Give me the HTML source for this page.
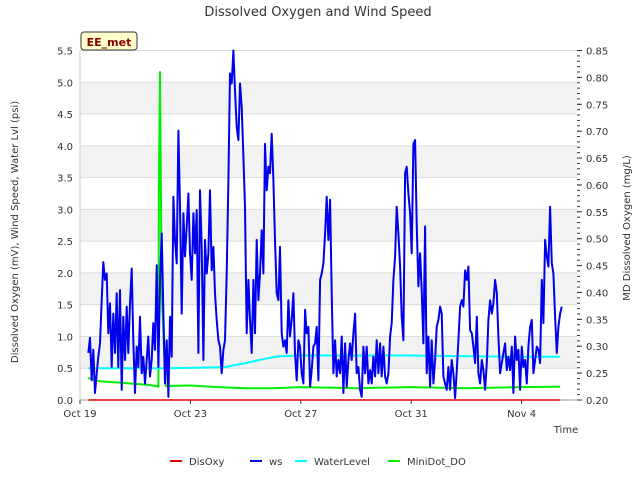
<!DOCTYPE html>
<html><head><meta charset="utf-8"><style>
body{margin:0;background:#fff;font-family:"Liberation Sans","DejaVu Sans",sans-serif}
svg text{font-family:"DejaVu Sans","Liberation Sans",sans-serif}
</style></head><body>
<svg id="c" width="640" height="480" xmlns="http://www.w3.org/2000/svg"></svg>
<script>
const xTicks=["Oct 19","Oct 23","Oct 27","Oct 31","Nov 4"];
const xTickDays=[0,4,8,12,16];
const leftTicks=[0,0.5,1,1.5,2,2.5,3,3.5,4,4.5,5,5.5];
const rightTicks=[0.20,0.25,0.30,0.35,0.40,0.45,0.50,0.55,0.60,0.65,0.70,0.75,0.80,0.85];
const wsStartDay=0.302;
const wsStepDay=0.0604;
const wsValues=[0.74,0.98,0.31,0.79,0.11,0.42,0.68,0.89,1.57,2.17,1.89,1.99,1.05,1.52,0.52,1.36,0.74,1.68,0.52,1.73,0.16,1.31,0.63,1.47,0.74,1.52,2.07,0.94,0.11,0.84,0.52,1.31,0.42,0.68,0.26,0.63,1.00,0.37,0.63,1.21,0.79,2.12,0.52,1.84,2.62,1.36,0.26,0.94,0.05,1.31,0.68,3.20,2.52,2.15,4.24,3.04,1.36,2.94,2.26,2.73,3.25,2.31,1.89,2.94,2.31,2.99,0.74,3.30,2.41,0.63,2.52,1.99,2.31,3.30,2.04,2.41,1.68,1.26,0.94,0.84,0.42,0.79,0.94,1.99,3.46,5.14,4.98,5.50,4.87,4.30,4.09,4.98,4.61,3.83,3.04,1.05,1.89,1.26,0.74,1.89,1.05,2.52,1.57,1.99,2.67,1.99,4.03,3.30,3.67,3.57,4.19,3.46,2.52,1.68,1.57,2.41,1.05,0.84,0.94,0.74,1.57,1.00,1.26,1.68,0.74,0.31,0.94,0.84,0.42,0.26,1.42,1.05,1.15,0.21,0.47,0.84,0.89,1.15,0.31,1.89,1.99,2.15,2.62,3.20,2.52,3.15,
1.68,0.42,0.94,0.37,0.63,0.42,1.00,0.11,0.89,0.21,0.63,0.89,0.63,1.05,1.36,0.42,0.52,0.16,0.05,0.84,0.42,0.84,0.26,0.47,0.26,0.68,0.37,0.94,0.42,0.89,0.37,0.84,0.37,0.26,0.42,1.00,1.21,1.89,2.26,3.04,2.62,2.10,1.31,0.94,3.57,3.67,3.25,2.94,2.31,4.03,4.09,2.78,1.79,2.31,1.73,0.89,2.73,0.42,1.00,0.21,0.94,0.26,0.63,1.15,1.26,1.47,1.36,0.37,0.26,0.16,0.52,0.16,0.63,0.42,0.03,0.47,0.94,1.47,1.57,1.47,2.04,1.89,2.10,1.10,1.05,0.84,0.58,1.31,0.42,0.26,0.63,0.47,0.16,0.58,1.26,1.57,1.36,1.52,1.89,1.68,1.00,0.42,0.58,0.74,0.89,0.47,0.68,0.47,0.84,0.11,1.00,0.63,0.79,0.16,0.84,0.52,0.63,0.26,0.84,1.15,1.26,0.42,0.63,0.84,0.79,0.58,1.89,1.21,2.52,2.26,2.10,3.04,2.15,1.99,1.31,0.74,1.15,1.36,1.47];
const wlDays=[0.3,1.5,3,4.5,5.3,5.6,6,6.6,7.2,8,10,12,14,16,16.8,17.4];
const wlValues=[0.50,0.50,0.50,0.51,0.52,0.55,0.58,0.64,0.69,0.70,0.70,0.70,0.69,0.68,0.68,0.68];
const doDays=[0.3,0.7,1.5,2.5,2.84,2.86,2.9,2.96,3.1,4,5,6,7,8,9,10,12,14,16,17.4];
const doValues=[0.241,0.235,0.232,0.228,0.225,0.60,0.81,0.40,0.226,0.227,0.224,0.222,0.222,0.224,0.223,0.222,0.224,0.222,0.224,0.225];
const disDays=[0.3,17.4];
const disValues=[0.2,0.2];

const L=80,R=577,T=50.5,B=400;
const NS="http://www.w3.org/2000/svg";
const svg=document.getElementById('c');
const xS=d=>L+d*27.6;
const yL=v=>B-(v/5.5)*(B-T);
const yR=v=>B-((v-0.2)/0.65)*(B-T);
function el(t,a,p){const e=document.createElementNS(NS,t);for(const k in a)e.setAttribute(k,a[k]);(p||svg).appendChild(e);return e;}
function txt(s,a){const e=el('text',a);e.textContent=s;return e;}
for(let i=0;i<5;i++){const lo=0.5+i, b=el('rect',{x:L,y:yL(lo+0.5),width:R-L,height:yL(lo)-yL(lo+0.5),fill:'#f2f2f2'});

}
leftTicks.forEach(v=>{const g=el('line',{x1:L,x2:R,y1:yL(v),y2:yL(v),stroke:'#dcdcdc','stroke-width':1});


const t=txt(v.toFixed(1),{x:73,y:yL(v)+4,'text-anchor':'end','font-size':10,fill:'#333'});

});
rightTicks.forEach(v=>{const t=txt(v.toFixed(2),{x:586,y:yR(v)+4,'font-size':10,fill:'#333'});


el('line',{x1:R,x2:R+5,y1:yR(v),y2:yR(v),stroke:'#333'});});
for(let k=20;k<=85;k++){const v=k/100;el('line',{x1:R,x2:R+3,y1:yR(v),y2:yR(v),stroke:'#333'});}
xTicks.forEach((s,i)=>{const x=xS(xTickDays[i]);el('line',{x1:x,x2:x,y1:B,y2:B+4,stroke:'#333'});
const t=txt(s,{x:x,y:B+17,'text-anchor':'middle','font-size':10,fill:'#333'});

});
el('line',{x1:L,x2:R,y1:B,y2:B,stroke:'#999'});
el('line',{x1:L,x2:L,y1:T,y2:B,stroke:'#ccc'});
function line(days,vals,ys,color,w,name){const d=days.map((t,i)=>(i?'L':'M')+xS(t).toFixed(1)+','+ys(vals[i]).toFixed(1)).join('');
const p=el('path',{d:d,fill:'none',stroke:color,'stroke-width':w,'stroke-linejoin':'round'});

}
line(disDays,disValues,yR,'#dd0000',1.5,'disoxy-line');
line(doDays,doValues,yR,'#00ee00',2,'minidot-do-line');
line(wlDays,wlValues,yL,'#00ffff',2,'waterlevel-line');
const wsDays=wsValues.map((v,i)=>wsStartDay+i*wsStepDay);
line(wsDays,wsValues,yL,'#0000ee',2,'ws-line');
let t=txt('Dissolved Oxygen and Wind Speed',{x:318,y:16,'text-anchor':'middle','font-size':13,fill:'#333'});


t=txt('Time',{x:566,y:433,'text-anchor':'middle','font-size':10,fill:'#333'});


t=txt('Dissolved Oxygen (mV), Wind Speed, Water Lvl (psi)',{x:0,y:0,transform:'translate(18,232) rotate(-90)','text-anchor':'middle','font-size':10,fill:'#333'});


t=txt('MD Dissolved Oxygen (mg/L)',{x:0,y:0,transform:'translate(630,228) rotate(-90)','text-anchor':'middle','font-size':10,fill:'#333'});


const bx=el('rect',{x:81,y:32,width:56,height:18,rx:3,fill:'#ffffcc',stroke:'#333'});


t=txt('EE_met',{x:109,y:46,'text-anchor':'middle','font-size':11,'font-weight':'bold',fill:'#8b0000'});


const leg=[['DisOxy','#dd0000',170],['ws','#0000ee',250],['WaterLevel','#00ffff',295],['MiniDot_DO','#00ee00',388]];
leg.forEach(([n,c,x])=>{const l=el('line',{x1:x,x2:x+12,y1:461,y2:461,stroke:c,'stroke-width':2});


const tt=txt(n,{x:x+19,y:465,'font-size':10,fill:'#333'});

});
</script>
</body></html>
